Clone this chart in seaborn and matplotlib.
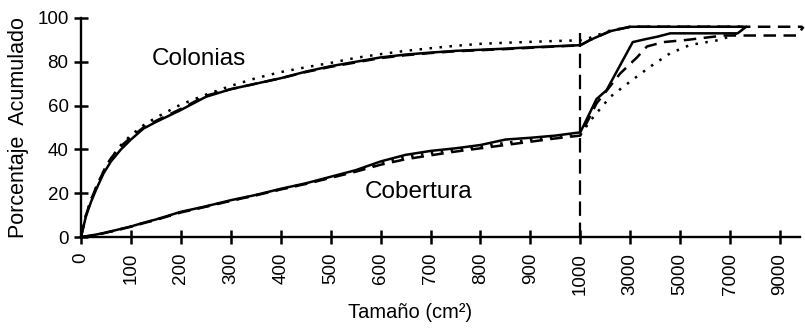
import numpy as np
import pandas as pd
import matplotlib
matplotlib.use("Agg")
import matplotlib.pyplot as plt
from matplotlib.ticker import FixedLocator, NullLocator
import seaborn as sns

# Tamaño de colonia (cm2) en el tramo lineal 0-1000
tam_base = [0, 10, 20, 30, 45, 60, 80, 100, 125, 150, 200, 250, 300, 350, 400,
            450, 500, 550, 600, 650, 700, 750, 800, 850, 900, 950, 1000]

# Porcentaje acumulado del número de colonias
col_a_tam = tam_base + [1400, 2200, 3000, 7500]
col_a_pct = [0, 9.5, 16, 21.5, 29, 34.5, 40, 44.5, 49.5, 52.5, 58, 64, 67.5, 70, 72.5,
             75.5, 78, 80, 82, 83.3, 84.2, 85, 85.5, 86, 86.6, 87.1, 87.6,
             90, 94, 96, 96]
col_b_tam = tam_base + [1400, 2200, 3000, 9900]
col_b_pct = [0, 10, 17, 22.5, 30, 36, 41.5, 45.5, 50, 53, 58.5, 64.5, 67.5, 70, 72.5,
             75.3, 77.7, 79.7, 81.7, 83, 84, 84.8, 85.3, 85.8, 86.4, 87, 87.5,
             90, 94, 96, 96]
col_c_tam = tam_base + [1400, 2200, 3000, 7500]
col_c_pct = [0, 10, 17, 22.5, 30, 36, 42, 46.5, 51, 54.5, 60.5, 65, 69, 72.5, 75.3,
             77.5, 79.5, 81.8, 83.5, 85, 86.2, 87.3, 88.2, 88.7, 89.1, 89.5, 89.8,
             91, 94.3, 96, 96]

# Porcentaje acumulado de la cobertura
cob_a_tam = tam_base + [1650, 2050, 3100, 3600, 4100, 4600, 7300, 7650]
cob_a_pct = [0, 0.3, 0.7, 1.1, 1.8, 2.6, 3.7, 4.8, 6.5, 8, 11.5, 14, 16.8, 19.2, 22,
             24.5, 27.5, 30.5, 34.5, 37.5, 39.3, 40.5, 42, 44.5, 45.3, 46.3, 47.8,
             63, 67, 89, 90.3, 91.5, 93, 93, 96]
cob_b_tam = tam_base + [1650, 2600, 3270, 3670, 4330, 5270, 6730, 9680, 9940]
cob_b_pct = [0, 0.3, 0.6, 1, 1.7, 2.5, 3.6, 4.7, 6.3, 7.8, 11.2, 13.8, 16.5, 19, 21.7,
             24.2, 27, 29.8, 33, 35.5, 37.3, 39, 40.5, 42, 43.5, 45, 46.3,
             61, 74.7, 82, 87, 89, 90, 92, 92, 96]
cob_c_tam = tam_base + [1535, 2200, 3000, 3800, 4600, 5400, 6600, 7200, 7600]
cob_c_pct = [0, 0.3, 0.6, 1, 1.7, 2.5, 3.6, 4.7, 6.4, 7.9, 11.3, 13.9, 16.6, 19.1, 21.8,
             24.3, 27.2, 30.1, 33.8, 36.5, 38.3, 39.8, 41.2, 43, 44.3, 45.5, 46.8,
             55, 64, 71, 77.8, 83.9, 87.7, 90, 92.5, 96]

# Marcas del eje x y línea de corte entre los dos tramos de escala
x_ticks = [0, 100, 200, 300, 400, 500, 600, 700, 800, 900, 1000, 3000, 5000, 7000, 9000]
y_ticks = [0, 20, 40, 60, 80, 100]
corte = 1000
corte_tope = 93


def adelante(x):
    x = np.asarray(x, dtype=float)
    return np.where(x <= corte, x / 100.0, 10.0 + (x - corte) / 2000.0)


def atras(p):
    p = np.asarray(p, dtype=float)
    return np.where(p <= 10.0, p * 100.0, corte + (p - 10.0) * 2000.0)


sns.set_theme(style="ticks")
plt.rcParams["font.family"] = ["Liberation Sans", "DejaVu Sans"]

fig = plt.figure(figsize=(8.05, 3.28), dpi=100)
ax = fig.add_axes([81 / 805, (328 - 237) / 328, (800 - 81) / 805, (237 - 18) / 328])

lw = 1.8
estilos = {"solid": "-", "dash": (0, (5, 3)), "dot": (0, (1, 3))}
curvas = [
    (col_a_tam, col_a_pct, "solid"),
    (col_b_tam, col_b_pct, "dash"),
    (col_c_tam, col_c_pct, "dot"),
    (cob_a_tam, cob_a_pct, "solid"),
    (cob_b_tam, cob_b_pct, "dash"),
    (cob_c_tam, cob_c_pct, "dot"),
]
for tam, pct, est in curvas:
    df = pd.DataFrame({"tam": tam, "pct": pct})
    sns.lineplot(data=df, x="tam", y="pct", color="black", lw=lw,
                 linestyle=estilos[est], estimator=None, sort=False, ax=ax,
                 clip_on=False)

ax.set_xscale("function", functions=(adelante, atras))
ax.set_xlim(0, 9800)
ax.set_ylim(0, 100)

ax.vlines(corte, 0, corte_tope, colors="black", lw=1.6, linestyles=[(0, (6.5, 3))])

ax.xaxis.set_major_locator(FixedLocator(x_ticks))
ax.xaxis.set_minor_locator(NullLocator())
ax.set_xticklabels([str(t) for t in x_ticks])
ax.set_yticks(y_ticks)

sns.despine(ax=ax)
for s in ("left", "bottom"):
    ax.spines[s].set_linewidth(1.7)
    ax.spines[s].set_color("black")

ax.tick_params(axis="x", direction="inout", length=10, width=1.8, pad=6.5,
               labelrotation=90, labelsize=13.5, color="black",
               labelcolor="black", bottom=True)
ax.tick_params(axis="y", direction="inout", length=10, width=1.8, pad=4,
               labelsize=13.5, color="black", labelcolor="black", left=True)

ax.set_xlabel("Tamaño (cm²)", fontsize=14.5, color="black")
ax.set_ylabel("Porcentaje  Acumulado", fontsize=15.5, color="black")
ax.xaxis.set_label_coords((410 - 81) / 719, -0.30)
ax.yaxis.set_label_coords((29 - 81) / 719, 0.5)

ax.text(236, 81.3, "Colonias", fontsize=17.5, ha="center", va="center", color="black")
ax.text(677, 20.5, "Cobertura", fontsize=17.5, ha="center", va="center", color="black")

fig.savefig("out.png", dpi=100, facecolor="white")
